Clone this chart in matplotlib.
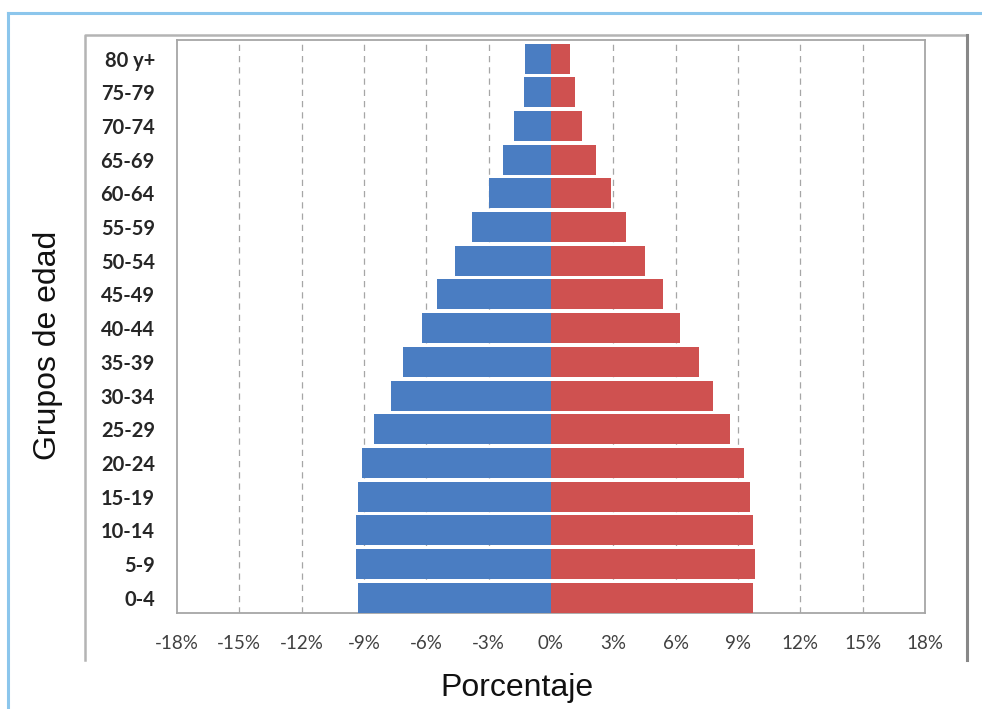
import matplotlib
matplotlib.use("Agg")
import matplotlib.pyplot as plt
from matplotlib.lines import Line2D
from matplotlib.ticker import FuncFormatter
import numpy as np

# age groups, bottom to top
age_groups = ["0-4", "5-9", "10-14", "15-19", "20-24", "25-29", "30-34", "35-39",
              "40-44", "45-49", "50-54", "55-59", "60-64", "65-69", "70-74", "75-79", "80 y+"]
# percent of population (hombres on the left, mujeres on the right)
hombres = [9.3, 9.4, 9.4, 9.3, 9.1, 8.5, 7.7, 7.1, 6.2, 5.5, 4.6, 3.8, 3.0, 2.3, 1.8, 1.3, 1.25]
mujeres = [9.7, 9.8, 9.7, 9.6, 9.3, 8.6, 7.8, 7.1, 6.2, 5.4, 4.5, 3.6, 2.9, 2.15, 1.5, 1.15, 0.9]
x_ticks = [-18, -15, -12, -9, -6, -3, 0, 3, 6, 9, 12, 15, 18]

blue = "#4a7dc2"
red = "#cf5150"

fig = plt.figure(figsize=(9.82, 7.09), dpi=100)
ax = fig.add_axes([177/982, 1 - 613/709, (925 - 177)/982, (613 - 40)/709])

y = np.arange(len(age_groups))
ax.barh(y, -np.array(hombres), height=0.89, color=blue, zorder=3)
ax.barh(y, mujeres, height=0.89, color=red, zorder=3)

ax.set_xlim(-18, 18)
ax.set_ylim(-0.45, 16.55)
ax.set_xticks(x_ticks)
ax.xaxis.set_major_formatter(FuncFormatter(lambda v, p: f"{int(round(v))}%"))
ax.set_yticks(y)
ax.set_yticklabels(age_groups)

for v in x_ticks[1:-1]:
    if v != 0:
        ax.axvline(v, color="#a6a6a6", lw=0.9, ls=(0, (5, 4)), zorder=1)

for s in ax.spines.values():
    s.set_color("#a6a6a6")
    s.set_linewidth(1.3)

ax.tick_params(axis="both", length=0)
ax.tick_params(axis="x", pad=16)
ax.tick_params(axis="y", pad=16)
for lab in ax.get_xticklabels():
    lab.set_fontfamily("Lato")
    lab.set_fontsize(13.5)
    lab.set_color("#404040")
for lab in ax.get_yticklabels():
    lab.set_fontfamily("Lato")
    lab.set_fontweight("bold")
    lab.set_fontsize(14.5)
    lab.set_color("#262626")

fig.text(48/982, 1 - 345/709, "Grupos de edad", rotation=90, ha="center", va="center",
         fontsize=23, family="Liberation Sans", color="#111111")
fig.text(517/982, 1 - 688/709, "Porcentaje", ha="center", va="center",
         fontsize=23, family="Liberation Sans", color="#111111")

# outer light blue border (top and left)
fig.add_artist(Line2D([8/982, 1], [1 - 13/709, 1 - 13/709], color="#8cc6ec", lw=2.2))
fig.add_artist(Line2D([8/982, 8/982], [0, 1 - 13/709], color="#8cc6ec", lw=2.2))
# inner chart frame (gray)
fig.add_artist(Line2D([85/982, 85/982, 967/982], [1 - 660/709, 1 - 35/709, 1 - 35/709],
                      color="#b4b4b4", lw=1.8))
fig.add_artist(Line2D([967/982, 967/982], [1 - 35/709, 1 - 660/709], color="#888888", lw=2.2))

fig.savefig("out.png", dpi=100)
